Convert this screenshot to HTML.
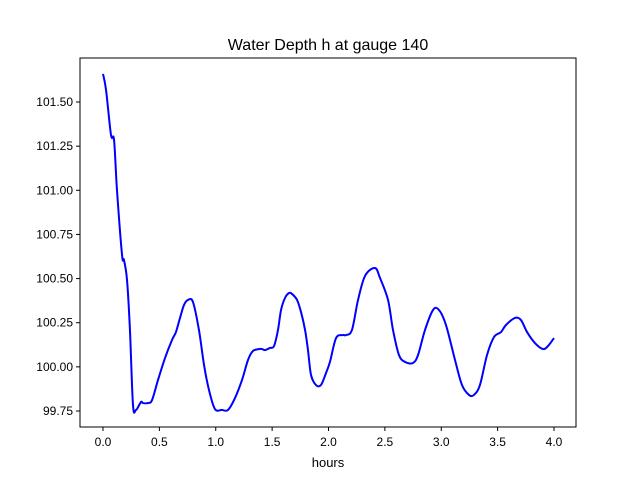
<!DOCTYPE html>
<html><head><meta charset="utf-8"><style>
body{margin:0;background:#fff;}
svg{display:block;font-family:"Liberation Sans","DejaVu Sans",sans-serif;}
</style></head><body>
<svg id="chart" width="640" height="480">
<rect width="640" height="480" fill="#fff"/>
<text x="328" y="50" font-size="16" text-anchor="middle">Water Depth h at gauge 140</text>
<g id="ticks"></g>
<path id="line" fill="none" stroke="#0000ff" stroke-width="2"/>
<rect x="80" y="58" width="496" height="369" fill="none" stroke="#000" stroke-width="1"/>
<text x="328" y="467" font-size="13" text-anchor="middle">hours</text>
</svg>
<script>
const hours=[0,0.027,0.071,0.098,0.124,0.169,0.186,0.213,0.239,0.266,0.293,0.337,0.355,0.399,0.435,0.488,0.550,0.612,0.647,0.683,0.718,0.754,0.798,0.851,0.896,0.940,0.993,1.055,1.109,1.171,1.233,1.286,1.330,1.384,1.410,1.437,1.481,1.517,1.552,1.579,1.614,1.650,1.676,1.721,1.756,1.792,1.818,1.845,1.889,1.933,1.978,2.013,2.067,2.129,2.155,2.208,2.262,2.324,2.412,2.457,2.528,2.572,2.625,2.678,2.749,2.794,2.856,2.927,2.980,3.042,3.122,3.184,3.246,3.290,3.343,3.406,3.468,3.530,3.574,3.654,3.707,3.761,3.831,3.902,3.947,4.0];
const depth=[101.659,101.568,101.313,101.285,101.002,100.633,100.605,100.492,100.209,99.784,99.756,99.801,99.795,99.795,99.812,99.926,100.050,100.152,100.197,100.277,100.350,100.379,100.367,100.209,100.011,99.869,99.761,99.756,99.756,99.824,99.926,100.039,100.090,100.101,100.101,100.095,100.107,100.118,100.209,100.322,100.390,100.418,100.413,100.379,100.311,100.209,100.095,99.954,99.897,99.897,99.965,100.028,100.163,100.180,100.180,100.209,100.379,100.515,100.560,100.503,100.379,100.209,100.067,100.028,100.022,100.067,100.209,100.322,100.322,100.237,100.039,99.897,99.841,99.841,99.897,100.067,100.169,100.197,100.237,100.277,100.265,100.197,100.135,100.101,100.118,100.163];
const xTicks=[0,0.5,1,1.5,2,2.5,3,3.5,4];
const yTicks=[99.75,100,100.25,100.5,100.75,101,101.25,101.5];
const X=v=>103+v*112.75;
const Y=v=>102+(101.5-v)*176.57;
const NS="http://www.w3.org/2000/svg";
const g=document.getElementById('ticks');
function mk(t,a){const e=document.createElementNS(NS,t);for(const k in a)e.setAttribute(k,a[k]);g.appendChild(e);return e;}
xTicks.forEach(v=>{
 const l=mk('line',{x1:X(v),x2:X(v),y1:427,y2:431,stroke:'#000'});
 
 
 const t=mk('text',{x:X(v),y:446,'font-size':12,'text-anchor':'middle'});
 t.textContent=v.toFixed(1);
 
 
});
yTicks.forEach(v=>{
 const l=mk('line',{x1:76,x2:80,y1:Y(v),y2:Y(v),stroke:'#000'});
 
 
 const t=mk('text',{x:73,y:Y(v)+4,'font-size':12,'text-anchor':'end'});
 t.textContent=v.toFixed(2);
 
 
});
const P=hours.map((h,i)=>[X(h),Y(depth[i])]);
let d='M'+P[0][0]+','+P[0][1];
for(let i=0;i<P.length-1;i++){
 const p0=P[i-1]||P[i],p1=P[i],p2=P[i+1],p3=P[i+2]||P[i+1];
 const c1=[p1[0]+(p2[0]-p0[0])/6,p1[1]+(p2[1]-p0[1])/6];
 const c2=[p2[0]-(p3[0]-p1[0])/6,p2[1]-(p3[1]-p1[1])/6];
 d+=`C${c1[0]},${c1[1]} ${c2[0]},${c2[1]} ${p2[0]},${p2[1]}`;
}
document.getElementById('line').setAttribute('d',d);
</script>
</body></html>
